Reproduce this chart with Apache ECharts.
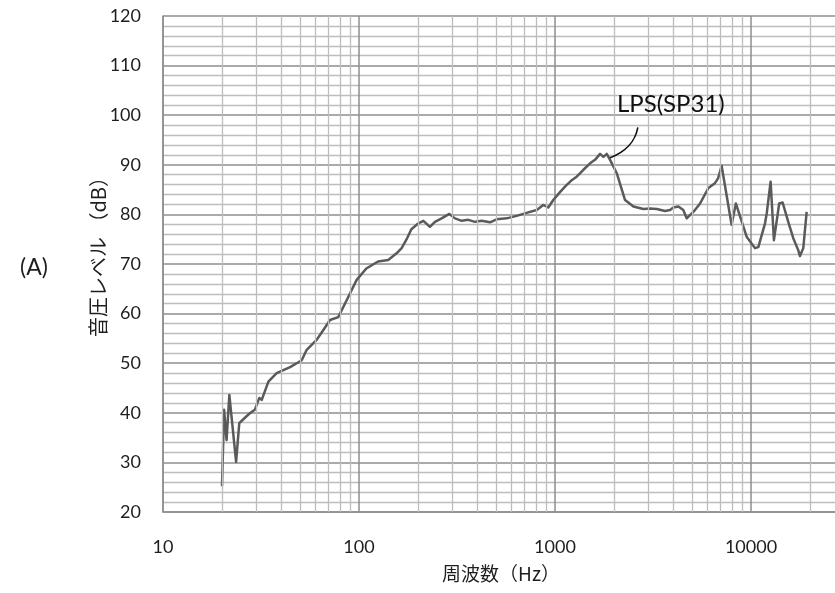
<!DOCTYPE html>
<html>
<head>
<meta charset="utf-8">
<script src="https://cdn.jsdelivr.net/npm/echarts@6/dist/echarts.min.js"></script>
<style>
  html, body { margin: 0; padding: 0; background: #fff; }
  #chart { width: 835px; height: 593px; }
</style>
</head>
<body>
<div id="chart"></div>
<script>
// Frequency response of LPS(SP31): frequency (Hz) and sound pressure level (dB)
const freqHz = [
  20.0, 20.5, 21.1, 21.8, 23.6, 24.5, 25.7, 27.2, 28.4, 29.4,
  31.0, 31.9, 34.5, 38.0, 44.5, 48.1, 51.0, 54.1, 60.8, 65.8,
  71.1, 78.4, 86.5, 97.3, 109, 125, 141, 156, 165, 175,
  185, 201, 213, 230, 244, 264, 289, 309, 334, 361,
  391, 423, 466, 504, 567, 637, 716, 807, 871, 924,
  980, 1066, 1125, 1217, 1290, 1396, 1510, 1600, 1698, 1766,
  1837, 1910, 2066, 2277, 2512, 2824, 3054, 3305, 3641, 3863,
  4015, 4260, 4515, 4697, 5081, 5497, 6058, 6547, 6800, 7080,
  7200, 7962, 8370, 9500, 10480, 10900, 11790, 12030, 12590, 13090,
  13930, 14500, 15490, 16430, 17420, 17780, 18480, 18900, 19230
];
const levelDb = [
  25.2, 40.6, 34.5, 43.6, 30.1, 37.9, 38.7, 39.6, 40.2, 40.6,
  43.0, 42.6, 46.3, 48.0, 49.2, 50.0, 50.6, 52.7, 54.7, 56.7,
  58.7, 59.3, 62.7, 66.8, 69.1, 70.5, 70.8, 72.2, 73.2, 75.0,
  77.0, 78.2, 78.7, 77.5, 78.5, 79.2, 80.1, 79.2, 78.7, 78.9,
  78.5, 78.7, 78.4, 79.0, 79.2, 79.7, 80.3, 80.9, 81.9, 81.4,
  82.9, 84.6, 85.6, 86.9, 87.6, 89.0, 90.3, 91.0, 92.2, 91.6,
  92.2, 91.0, 88.3, 82.9, 81.6, 81.1, 81.2, 81.1, 80.7, 80.9,
  81.4, 81.6, 80.9, 79.2, 80.5, 82.2, 85.3, 86.3, 87.3, 89.8,
  89.6, 77.9, 82.2, 75.5, 73.2, 73.4, 78.2, 80.2, 86.6, 74.8,
  82.2, 82.4, 78.5, 75.2, 72.8, 71.6, 73.2, 73.5, 80.5
];

// Axis ranges and labels
const freqMin = 10, freqMax = 100000;
const levelMin = 20, levelMax = 120, levelStep = 10;
const xName = '周波数（Hz）';
const yName = '音圧レベル （dB）';
const seriesName = 'LPS(SP31)';
const panelTag = '(A)';
// point the callout is attached to, and where its text sits
const calloutAt = [1910, 91.4];
const calloutText = [3900, 102.2];

// Intermediate (2..9 × decade) frequencies for the log grid
const minorFreqs = [];
for (let d = 10; d < freqMax; d *= 10) {
  for (let k = 2; k <= 9; k++) minorFreqs.push(k * d);
}

const lineData = freqHz.map((f, i) => [f, levelDb[i]]);

const numFont = 'Lato, "Noto Sans CJK JP", sans-serif';
const majorGrid = '#8e8e8e';
const minorGrid = '#bdbdbd';

const chart = echarts.init(document.getElementById('chart'), null, { renderer: 'canvas' });

chart.setOption({
  animation: false,
  backgroundColor: '#ffffff',
  grid: {
    left: 163, top: 16, width: 784, height: 496,
    containLabel: false,
    outerBoundsMode: 'none'
  },
  xAxis: {
    type: 'log',
    logBase: 10,
    min: freqMin,
    max: freqMax,
    axisLine: { show: true, lineStyle: { color: majorGrid, width: 1.5 } },
    axisTick: { show: false },
    axisLabel: {
      margin: 26,
      fontFamily: numFont,
      fontSize: 18,
      color: '#1e1e1e',
      formatter: v => String(Math.round(v))
    },
    splitLine: { show: true, lineStyle: { color: majorGrid, width: 1.5 } }
  },
  yAxis: {
    type: 'value',
    min: levelMin,
    max: levelMax,
    interval: levelStep,
    axisLine: { show: true, lineStyle: { color: majorGrid, width: 1.5 } },
    axisTick: { show: false },
    axisLabel: {
      margin: 22,
      fontFamily: numFont,
      fontSize: 18,
      color: '#1e1e1e'
    },
    splitLine: { show: true, lineStyle: { color: majorGrid, width: 1.5 } },
    minorTick: { show: false, splitNumber: 5 },
    minorSplitLine: { show: true, lineStyle: { color: minorGrid, width: 1.3 } }
  },
  series: [
    {
      // vertical grid at 2..9 of each decade
      type: 'line',
      data: [],
      z: 1,
      silent: true,
      markLine: {
        silent: true,
        symbol: ['none', 'none'],
        animation: false,
        label: { show: false },
        lineStyle: { color: minorGrid, width: 1.3, type: 'solid' },
        emphasis: { disabled: true },
        data: minorFreqs.map(f => ({ xAxis: f }))
      }
    },
    {
      name: seriesName,
      type: 'line',
      z: 3,
      data: lineData,
      showSymbol: false,
      symbol: 'none',
      smooth: false,
      lineStyle: { color: '#5a5a5a', width: 2.5, join: 'round' }
    }
  ]
});

// Titles, panel tag and the callout for the curve
function drawOverlay() {
  const a = chart.convertToPixel({ gridIndex: 0 }, calloutAt);
  const t = chart.convertToPixel({ gridIndex: 0 }, calloutText);
  const sx = t[0] - 33, sy = t[1] + 23;
  chart.setOption({
    graphic: [
      {
        type: 'text',
        left: 20, top: 256,
        style: { text: panelTag, font: '23px ' + numFont, fill: '#1e1e1e' }
      },
      {
        type: 'text',
        x: 98, y: 252,
        rotation: Math.PI / 2,
        style: {
          text: yName,
          font: '20px "Noto Sans CJK JP", sans-serif',
          fill: '#1e1e1e',
          align: 'center',
          verticalAlign: 'middle'
        }
      },
      {
        type: 'text',
        x: 501, y: 574,
        style: {
          text: xName,
          font: '19px "Noto Sans CJK JP", sans-serif',
          fill: '#1e1e1e',
          align: 'center',
          verticalAlign: 'middle'
        }
      },
      {
        type: 'text',
        x: t[0], y: t[1],
        z: 10,
        style: {
          text: seriesName,
          font: '24px ' + numFont,
          fill: '#111',
          align: 'center',
          verticalAlign: 'middle'
        }
      },
      {
        type: 'bezierCurve',
        z: 10,
        shape: {
          x1: sx, y1: sy,
          cpx1: sx - 3, cpy1: sy + 16,
          cpx2: sx - 13, cpy2: a[1] - 6,
          x2: a[0], y2: a[1]
        },
        style: { stroke: '#111', lineWidth: 1.6, fill: null }
      }
    ]
  });
}
drawOverlay();
</script>
</body>
</html>
